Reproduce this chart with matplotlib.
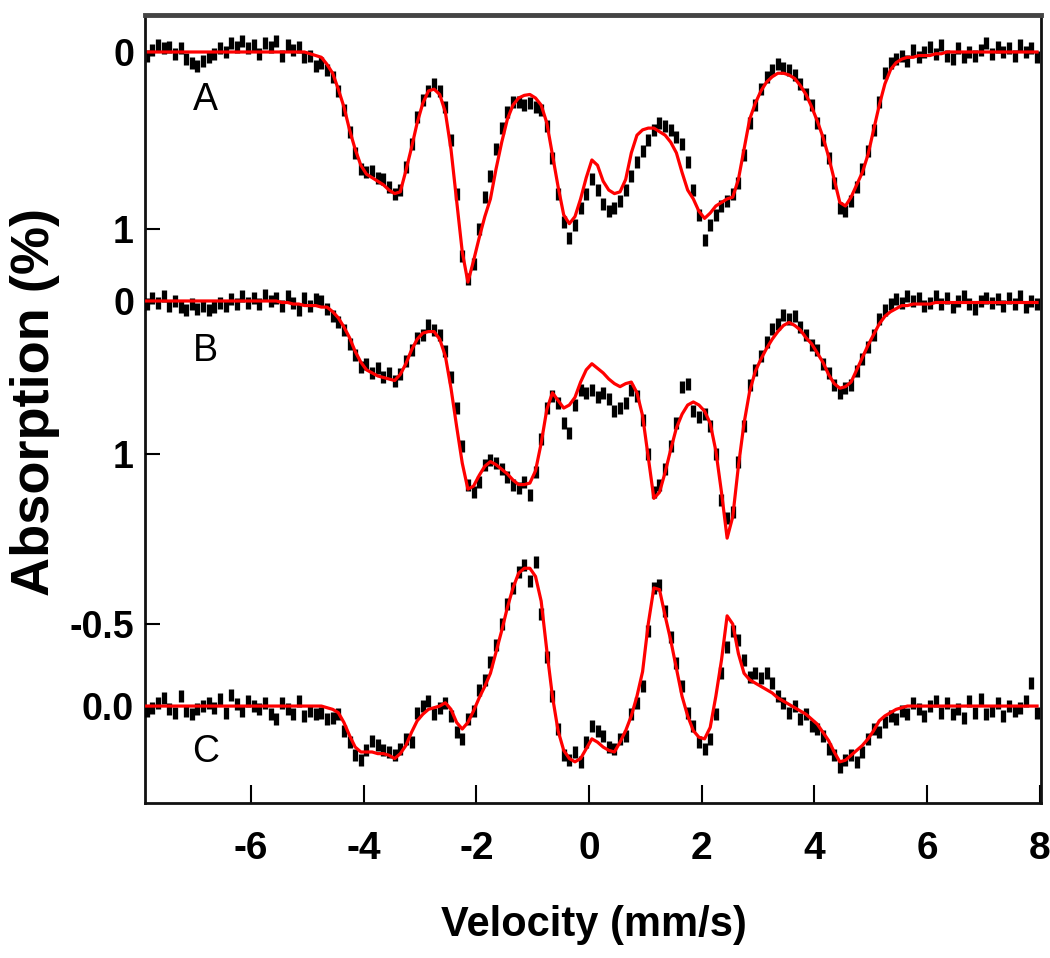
import numpy as np
import matplotlib
matplotlib.use('Agg')
import matplotlib.pyplot as plt

plt.rcParams['axes.unicode_minus'] = False
FONT = ['Liberation Sans', 'DejaVu Sans']

# velocity channels (mm/s)
vel = np.linspace(-7.85, 7.95, 159)

# spectrum A
fit_A = [0.00, 0.00, 0.00, 0.00, 0.00, 0.00, 0.00, 0.00, 0.00, 0.00,
         0.00, 0.00, 0.00, 0.00, 0.00, 0.00, 0.00, 0.00, 0.00, 0.00,
         0.00, 0.00, 0.00, 0.00, 0.00, 0.00, 0.00, 0.00, 0.00, 0.01,
         0.02, 0.03, 0.07, 0.12, 0.21, 0.31, 0.44, 0.55, 0.64, 0.69,
         0.71, 0.73, 0.75, 0.78, 0.80, 0.79, 0.67, 0.54, 0.40, 0.29,
         0.22, 0.21, 0.24, 0.34, 0.55, 0.84, 1.13, 1.30, 1.18, 1.05,
         0.93, 0.83, 0.66, 0.51, 0.38, 0.30, 0.26, 0.245, 0.24, 0.26,
         0.30, 0.40, 0.58, 0.76, 0.92, 0.97, 0.93, 0.83, 0.71, 0.61,
         0.64, 0.73, 0.78, 0.80, 0.79, 0.72, 0.57, 0.47, 0.44, 0.43,
         0.43, 0.45, 0.47, 0.51, 0.57, 0.68, 0.78, 0.83, 0.90, 0.94,
         0.91, 0.87, 0.85, 0.83, 0.82, 0.72, 0.55, 0.38, 0.29, 0.22,
         0.17, 0.14, 0.12, 0.12, 0.13, 0.15, 0.19, 0.24, 0.31, 0.39,
         0.48, 0.59, 0.72, 0.85, 0.87, 0.82, 0.75, 0.68, 0.58, 0.44,
         0.30, 0.18, 0.10, 0.06, 0.04, 0.03, 0.03, 0.02, 0.02, 0.02,
         0.01, 0.01, 0.00, 0.00, 0.00, 0.00, 0.00, 0.00, 0.00, 0.00,
         0.00, 0.00, 0.00, 0.00, 0.00, 0.00, 0.00, 0.00, 0.00]
data_A = [0.02, -0.01, -0.04, -0.02, -0.03, 0.01, -0.02, 0.04, 0.06, 0.08,
          0.05, 0.03, 0.01, -0.02, 0.00, -0.05, -0.03, -0.06, -0.02, -0.04,
          0.01, -0.05, -0.03, -0.06, 0.02, -0.04, -0.01, -0.03, 0.03, 0.02,
          0.08, 0.06, 0.10, 0.14, 0.22, 0.33, 0.45, 0.57, 0.66, 0.68,
          0.67, 0.71, 0.72, 0.76, 0.80, 0.78, 0.65, 0.52, 0.37, 0.27,
          0.22, 0.18, 0.22, 0.31, 0.50, 0.80, 1.15, 1.28, 1.20, 1.00,
          0.82, 0.70, 0.55, 0.43, 0.34, 0.28, 0.28, 0.30, 0.29, 0.31,
          0.33, 0.42, 0.60, 0.80, 0.96, 1.05, 0.98, 0.88, 0.80, 0.72,
          0.78, 0.86, 0.90, 0.88, 0.84, 0.78, 0.70, 0.62, 0.56, 0.50,
          0.44, 0.40, 0.42, 0.44, 0.48, 0.52, 0.62, 0.78, 0.92, 1.06,
          0.98, 0.92, 0.87, 0.84, 0.80, 0.74, 0.58, 0.40, 0.30, 0.21,
          0.14, 0.10, 0.07, 0.09, 0.10, 0.13, 0.18, 0.24, 0.30, 0.40,
          0.50, 0.60, 0.74, 0.88, 0.90, 0.84, 0.76, 0.66, 0.56, 0.44,
          0.28, 0.12, 0.06, 0.04, 0.02, 0.05, -0.01, 0.03, 0.00, -0.03,
          0.01, -0.04, 0.02, 0.04, -0.02, 0.03, 0.00, 0.02, -0.01, -0.05,
          0.01, -0.03, 0.00, -0.02, 0.02, -0.04, 0.00, -0.02, 0.03]

# spectrum B
fit_B = [0.00, 0.00, 0.00, 0.00, 0.00, 0.00, 0.00, 0.00, 0.00, 0.00,
         0.00, 0.00, 0.00, 0.00, 0.00, 0.00, 0.00, 0.00, 0.00, 0.00,
         0.00, 0.00, 0.00, 0.00, 0.01, 0.01, 0.02, 0.02, 0.03, 0.03,
         0.03, 0.04, 0.04, 0.07, 0.11, 0.17, 0.24, 0.33, 0.40, 0.45,
         0.47, 0.49, 0.50, 0.51, 0.52, 0.48, 0.41, 0.32, 0.25, 0.21,
         0.20, 0.20, 0.25, 0.36, 0.57, 0.82, 1.06, 1.23, 1.21, 1.14,
         1.08, 1.05, 1.07, 1.10, 1.13, 1.17, 1.20, 1.20, 1.19, 1.11,
         0.93, 0.71, 0.60, 0.65, 0.70, 0.68, 0.63, 0.53, 0.45, 0.41,
         0.44, 0.47, 0.51, 0.54, 0.56, 0.54, 0.53, 0.60, 0.75, 1.02,
         1.29, 1.25, 1.12, 0.97, 0.83, 0.74, 0.68, 0.66, 0.68, 0.72,
         0.80, 0.98, 1.25, 1.55, 1.41, 1.08, 0.80, 0.59, 0.46, 0.38,
         0.31, 0.25, 0.20, 0.16, 0.14, 0.16, 0.19, 0.24, 0.28, 0.34,
         0.40, 0.48, 0.54, 0.57, 0.56, 0.53, 0.45, 0.37, 0.29, 0.22,
         0.15, 0.10, 0.07, 0.05, 0.03, 0.03, 0.02, 0.02, 0.02, 0.02,
         0.01, 0.01, 0.01, 0.01, 0.01, 0.01, 0.01, 0.01, 0.01, 0.01,
         0.01, 0.01, 0.01, 0.01, 0.01, 0.01, 0.01, 0.01, 0.01]
data_B = [0.02, -0.02, 0.01, -0.03, 0.03, 0.00, 0.04, 0.06, 0.02, 0.05,
          0.03, 0.06, 0.04, 0.01, 0.03, -0.01, 0.02, -0.03, 0.01, -0.02,
          0.02, -0.04, 0.00, -0.02, 0.03, -0.03, 0.01, 0.06, -0.02, 0.03,
          -0.01, 0.00, 0.05, 0.10, 0.14, 0.19, 0.28, 0.35, 0.43, 0.41,
          0.47, 0.44, 0.50, 0.47, 0.52, 0.48, 0.39, 0.32, 0.24, 0.22,
          0.16, 0.19, 0.22, 0.33, 0.50, 0.70, 0.95, 1.20, 1.25, 1.18,
          1.07, 1.04, 1.06, 1.10, 1.15, 1.20, 1.22, 1.18, 1.27, 1.12,
          0.90, 0.70, 0.62, 0.67, 0.80, 0.86, 0.68, 0.58, 0.60, 0.58,
          0.63, 0.60, 0.64, 0.72, 0.70, 0.67, 0.58, 0.62, 0.78, 1.00,
          1.25, 1.20, 1.10, 0.95, 0.80, 0.56, 0.54, 0.72, 0.76, 0.74,
          0.82, 1.00, 1.30, 1.42, 1.38, 1.05, 0.82, 0.55, 0.45, 0.36,
          0.27, 0.18, 0.15, 0.09, 0.12, 0.10, 0.17, 0.22, 0.29, 0.32,
          0.41, 0.47, 0.55, 0.60, 0.57, 0.55, 0.46, 0.38, 0.30, 0.22,
          0.12, 0.06, 0.02, -0.01, 0.01, -0.03, 0.00, -0.02, 0.03, 0.01,
          -0.03, 0.02, -0.02, 0.04, 0.00, -0.03, 0.02, 0.05, 0.00, -0.02,
          0.01, -0.01, 0.03, -0.02, 0.02, -0.03, 0.04, 0.00, 0.02]

# spectrum C
fit_C = [0.00, 0.00, 0.00, 0.00, 0.00, 0.00, 0.00, 0.00, 0.00, 0.00,
         0.00, 0.00, 0.00, 0.00, 0.00, 0.00, 0.00, 0.00, 0.00, 0.00,
         0.00, 0.00, 0.00, 0.00, 0.00, 0.00, 0.00, 0.00, 0.00, 0.00,
         0.00, 0.00, 0.01, 0.02, 0.04, 0.10, 0.18, 0.25, 0.28, 0.28,
         0.28, 0.29, 0.29, 0.30, 0.32, 0.29, 0.24, 0.16, 0.09, 0.05,
         0.02, 0.01, 0.00, -0.02, 0.02, 0.10, 0.14, 0.10, 0.03, -0.05,
         -0.12, -0.20, -0.33, -0.46, -0.60, -0.72, -0.81, -0.84, -0.84, -0.79,
         -0.64, -0.34, -0.06, 0.15, 0.27, 0.32, 0.34, 0.32, 0.26, 0.20,
         0.22, 0.25, 0.27, 0.28, 0.22, 0.15, 0.06, -0.06, -0.21, -0.50,
         -0.72, -0.71, -0.55, -0.40, -0.23, -0.06, 0.06, 0.15, 0.19, 0.20,
         0.13, -0.06, -0.28, -0.55, -0.50, -0.32, -0.20, -0.16, -0.14, -0.12,
         -0.10, -0.08, -0.05, -0.03, -0.01, 0.01, 0.03, 0.05, 0.08, 0.11,
         0.16, 0.21, 0.28, 0.34, 0.33, 0.30, 0.27, 0.24, 0.20, 0.15,
         0.09, 0.06, 0.04, 0.02, 0.01, 0.00, 0.00, 0.00, 0.00, 0.00,
         0.00, 0.00, 0.00, 0.00, 0.00, 0.00, 0.00, 0.00, 0.00, 0.00,
         0.00, 0.00, 0.00, 0.00, 0.00, 0.00, 0.00, 0.00, 0.00]
data_C = [0.03, 0.01, -0.02, -0.05, 0.02, 0.04, -0.06, 0.03, 0.05, 0.02,
          0.00, -0.02, 0.01, -0.04, 0.04, -0.07, -0.01, 0.03, -0.03, 0.00,
          0.02, -0.02, 0.05, 0.08, -0.02, 0.02, 0.05, -0.03, 0.06, 0.03,
          0.05, 0.04, 0.08, 0.07, 0.05, 0.15, 0.22, 0.30, 0.33, 0.27,
          0.21, 0.24, 0.27, 0.28, 0.30, 0.26, 0.20, 0.22, 0.04, 0.00,
          -0.03, 0.05, 0.01, -0.02, 0.06, 0.16, 0.20, 0.08, 0.03, -0.10,
          -0.16, -0.27, -0.37, -0.50, -0.62, -0.72, -0.82, -0.86, -0.76, -0.88,
          -0.56, -0.30, -0.06, 0.14, 0.30, 0.33, 0.28, 0.34, 0.22, 0.12,
          0.15, 0.18, 0.25, 0.26, 0.20, 0.18, 0.05, -0.02, -0.12, -0.46,
          -0.72, -0.74, -0.58, -0.42, -0.26, -0.12, 0.04, 0.12, 0.22, 0.26,
          0.20, 0.05, -0.20, -0.36, -0.46, -0.40, -0.28, -0.18, -0.20, -0.17,
          -0.20, -0.14, -0.06, -0.02, 0.04, 0.00, 0.08, 0.05, 0.12, 0.14,
          0.18, 0.26, 0.30, 0.37, 0.33, 0.30, 0.34, 0.28, 0.20, 0.14,
          0.16, 0.10, 0.06, 0.08, 0.03, 0.05, -0.02, 0.02, 0.06, 0.00,
          -0.03, 0.04, -0.02, 0.05, 0.02, 0.07, -0.03, 0.04, -0.04, 0.05,
          0.03, -0.02, 0.06, 0.00, 0.03, 0.01, -0.03, -0.14, 0.04]

panels = [
    ('A', data_A, fit_A, (4.243, -0.209), [0, 1], ['0', '1'], 0.27),
    ('B', data_B, fit_B, (3.281, -1.869), [0, 1], ['0', '1'], 0.33),
    ('C', data_C, fit_C, (0.591, -4.213), [-0.5, 0.0], ['-0.5', '0.0'], 0.28),
]

fig = plt.figure(figsize=(10.5, 9.58), dpi=100)
rect = [145/1050, 1 - 803/958, (1041 - 145)/1050, (803 - 15)/958]

for i, (name, dat, fit, ylim, yt, ytl, ly) in enumerate(panels):
    ax = fig.add_axes(rect, label=name)
    ax.patch.set_alpha(0)
    ax.plot(vel, dat, ls='none', marker='|', ms=9, mew=3.8, color='black')
    ax.plot(vel, fit, color='#ff0000', lw=2.3)
    ax.set_xlim(-7.88, 8.02)
    ax.set_ylim(*ylim)
    ax.set_yticks(yt)
    ax.set_yticklabels(ytl, family=FONT, fontweight='bold', fontsize=27)
    ax.tick_params(axis='y', direction='in', length=11, width=1.5, pad=8)
    ax.text(-6.81, ly, name, family=FONT, fontsize=27, ha='center', va='center')
    if i == 0:
        ax.set_xticks([-6, -4, -2, 0, 2, 4, 6, 8])
        ax.set_xticklabels(['-6', '-4', '-2', '0', '2', '4', '6', '8'],
                           family=FONT, fontweight='bold', fontsize=28)
        ax.tick_params(axis='x', direction='in', length=13, width=1.5, pad=20)
        for s in ['left', 'right', 'bottom']:
            ax.spines[s].set_linewidth(2.0)
            ax.spines[s].set_color('#111111')
        ax.spines['top'].set_linewidth(3.5)
        ax.spines['top'].set_color('#444444')
    else:
        ax.set_frame_on(False)
        ax.set_xticks([])

fig.text(35/1050, 1 - 402/958, 'Absorption (%)', rotation=90, family=FONT,
         fontweight='bold', fontsize=39, ha='center', va='center')
fig.text(594/1050, 1 - 925/958, 'Velocity (mm/s)', family=FONT,
         fontweight='bold', fontsize=30, ha='center', va='center')

fig.savefig('out.png', dpi=100)
